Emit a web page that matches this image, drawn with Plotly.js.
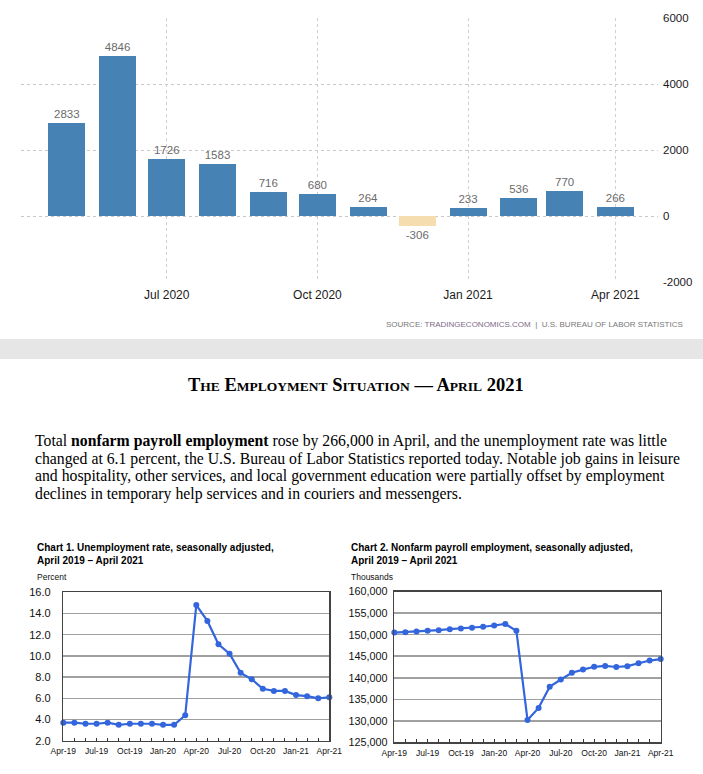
<!DOCTYPE html>
<html>
<head>
<meta charset="utf-8">
<script src="https://cdn.plot.ly/plotly-3.0.1.min.js"></script>
<style>html,body{margin:0;padding:0;background:#fff;} #chart{width:703px;height:774px;}</style>
</head>
<body>
<div id="chart"></div>
<script>
// ---------- data ----------
const barMonths = ['2020-05-01','2020-06-01','2020-07-01','2020-08-01','2020-09-01','2020-10-01','2020-11-01','2020-12-01','2021-01-01','2021-02-01','2021-03-01','2021-04-01'];
const barValues = [2833, 4846, 1726, 1583, 716, 680, 264, -306, 233, 536, 770, 266];
const topTickVals = ['2020-07-01','2020-10-01','2021-01-01','2021-04-01'];
const topTickText = ['Jul 2020','Oct 2020','Jan 2021','Apr 2021'];
const topYTicks = [-2000, 0, 2000, 4000, 6000];
const topYTickText = ['-2000', '0', '2000', '4000', '6000'];

const months = ['Apr-19','May-19','Jun-19','Jul-19','Aug-19','Sep-19','Oct-19','Nov-19','Dec-19','Jan-20','Feb-20','Mar-20','Apr-20','May-20','Jun-20','Jul-20','Aug-20','Sep-20','Oct-20','Nov-20','Dec-20','Jan-21','Feb-21','Mar-21','Apr-21'];
const quarterLabels = ['Apr-19','Jul-19','Oct-19','Jan-20','Apr-20','Jul-20','Oct-20','Jan-21','Apr-21'];
const unemploymentRate = [3.7,3.7,3.6,3.6,3.7,3.5,3.6,3.6,3.6,3.5,3.5,4.4,14.8,13.3,11.1,10.2,8.4,7.8,6.9,6.7,6.7,6.3,6.2,6.0,6.1];
const payrollEmployment = [150500,150600,150750,150900,151050,151300,151450,151650,151850,152150,152500,150900,130200,133000,137900,139600,141150,141900,142550,142750,142500,142700,143350,144000,144350];

// ---------- helpers ----------
const W = 703, H = 774;
const px = x => x / W;
const py = y => 1 - y / H;

const steel = '#4682B4', tan = '#F5DDB0', lineBlue = '#3366DD';
const sans = 'Liberation Sans, Arial, sans-serif';
const serif = 'Liberation Serif, Times New Roman, serif';
const monthTickText = months.map(m => quarterLabels.includes(m) ? m : '');

const traces = [
  {
    type: 'bar', x: barMonths, y: barValues, xaxis: 'x', yaxis: 'y',
    marker: {color: barValues.map(v => v < 0 ? tan : steel), line: {width: 0}},
    width: 22.6 * 86400000,
    text: barValues.map(String), textposition: 'outside', cliponaxis: false,
    textfont: {family: sans, size: 11.5, color: '#6b6b6b'},
    hoverinfo: 'x+y'
  },
  {
    type: 'scatter', mode: 'lines+markers', x: months, y: unemploymentRate,
    xaxis: 'x2', yaxis: 'y2', cliponaxis: false,
    line: {color: lineBlue, width: 2.2}, marker: {color: lineBlue, size: 6}
  },
  {
    type: 'scatter', mode: 'lines+markers', x: months, y: payrollEmployment,
    xaxis: 'x3', yaxis: 'y3', cliponaxis: false,
    line: {color: lineBlue, width: 2.2}, marker: {color: lineBlue, size: 6}
  }
];

const smallX = (dom, anchor) => ({
  domain: dom, anchor: anchor, type: 'category', range: [0, months.length - 1],
  tickmode: 'array', tickvals: months, ticktext: monthTickText,
  ticks: 'inside', ticklen: 3, tickcolor: '#333', tickwidth: 1,
  showline: true, mirror: true, linecolor: '#444', linewidth: 1.5,
  showgrid: false, zeroline: false, fixedrange: true,
  tickfont: {family: sans, size: 8.5, color: '#111'}, ticklabelstandoff: 2
});

const layout = {
  width: W, height: H, margin: {l: 0, r: 0, t: 0, b: 0},
  paper_bgcolor: '#fff', plot_bgcolor: '#fff', showlegend: false,
  bargap: 0,
  xaxis: {
    domain: [px(21), px(658)], anchor: 'y', type: 'date', range: ['2020-04-03', '2021-04-27'],
    tickmode: 'array', tickvals: topTickVals, ticktext: topTickText,
    showgrid: true, gridcolor: '#cfcfcf', griddash: 'dot', gridwidth: 1,
    ticks: '', showline: false, zeroline: false,
    tickfont: {family: sans, size: 12, color: '#1a1a1a'}, ticklabelstandoff: 4
  },
  yaxis: {
    domain: [py(282), py(18)], anchor: 'x', range: [-2000, 6000], side: 'right',
    tickmode: 'array', tickvals: topYTicks, ticktext: topYTickText,
    showgrid: true, gridcolor: '#c8c8c8', griddash: 'dot', gridwidth: 1,
    zeroline: false, showline: false, ticks: '',
    tickfont: {family: sans, size: 11.5, color: '#1a1a1a'}, ticklabelstandoff: 4
  },
  xaxis2: smallX([px(63.3), px(329.3)], 'y2'),
  yaxis2: {
    domain: [py(740.7), py(592.3)], anchor: 'x2', range: [2, 16], dtick: 2, tick0: 0,
    tickformat: '.1f', showgrid: true, gridcolor: '#a0a0a0', gridwidth: 1.5,
    zeroline: false, showline: true, mirror: true, linecolor: '#444', linewidth: 1.5,
    ticks: '', ticklabelstandoff: 9, fixedrange: true,
    tickfont: {family: sans, size: 11, color: '#111'}
  },
  xaxis3: smallX([px(394.3), px(660.7)], 'y3'),
  yaxis3: {
    domain: [py(742.3), py(591.7)], anchor: 'x3', range: [125000, 160000], dtick: 5000, tick0: 0,
    tickformat: ',d', showgrid: true, gridcolor: '#a0a0a0', gridwidth: 1.5,
    zeroline: false, showline: true, mirror: true, linecolor: '#444', linewidth: 1.5,
    ticks: '', ticklabelstandoff: 3, fixedrange: true,
    tickfont: {family: sans, size: 10.8, color: '#111'}
  },
  shapes: [
    {type: 'rect', xref: 'paper', yref: 'paper', x0: 0, x1: 1, y0: py(359), y1: py(339),
     fillcolor: '#e6e6e6', line: {width: 0}, layer: 'below'}
  ],
  annotations: []
};

const ann = (text, x, y, opts) => Object.assign({
  text: text, xref: 'paper', yref: 'paper', x: px(x), y: py(y),
  showarrow: false, xanchor: 'left', yanchor: 'middle', align: 'left',
  font: {family: sans, size: 10, color: '#000'}
}, opts || {});

const sc = s => '<span style="font-size:13.5px">' + s + '</span>';
const para = {family: serif, size: 15.75, color: '#000'};

layout.annotations.push(
  ann('SOURCE: <span style="color:#7d6b85">TRADINGECONOMICS.COM</span>  |  U.S. BUREAU OF LABOR STATISTICS', 685, 324,
      {xanchor: 'right', font: {family: sans, size: 8, color: '#777'}}),
  ann('<b>T' + sc('HE') + ' E' + sc('MPLOYMENT') + ' S' + sc('ITUATION') + ' — A' + sc('PRIL') + ' 2021</b>', 356, 385,
      {xanchor: 'center', font: {family: serif, size: 18.5, color: '#000'}}),
  ann('Total <b>nonfarm payroll employment</b> rose by 266,000 in April, and the unemployment rate was little', 33, 441, {font: para}),
  ann('changed at 6.1 percent, the U.S. Bureau of Labor Statistics reported today. Notable job gains in leisure', 33, 458.5, {font: para}),
  ann('and hospitality, other services, and local government education were partially offset by employment', 33, 476, {font: para}),
  ann('declines in temporary help services and in couriers and messengers.', 33, 493.5, {font: para}),
  ann('<b>Chart 1. Unemployment rate, seasonally adjusted,</b>', 35, 547, {font: {family: sans, size: 10, color: '#000'}}),
  ann('<b>April 2019 – April 2021</b>', 35, 560, {font: {family: sans, size: 10, color: '#000'}}),
  ann('Percent', 35, 577, {font: {family: sans, size: 8.5, color: '#111'}}),
  ann('<b>Chart 2. Nonfarm payroll employment, seasonally adjusted,</b>', 349, 547, {font: {family: sans, size: 10, color: '#000'}}),
  ann('<b>April 2019 – April 2021</b>', 349, 560, {font: {family: sans, size: 10, color: '#000'}}),
  ann('Thousands', 349, 577, {font: {family: sans, size: 8.5, color: '#111'}})
);

Plotly.newPlot('chart', traces, layout, {displayModeBar: false, staticPlot: true});
</script>
</body>
</html>
